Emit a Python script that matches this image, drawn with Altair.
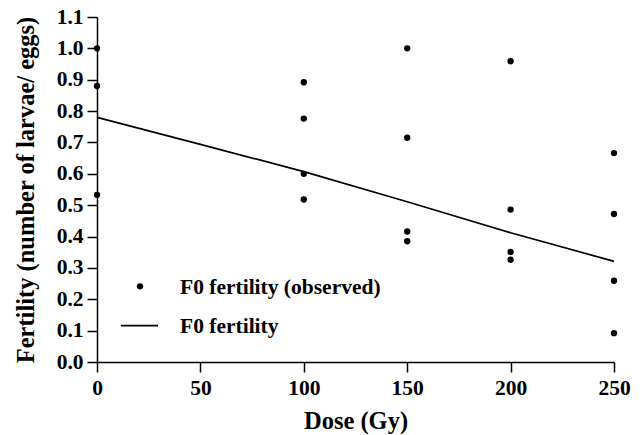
import altair as alt
import pandas as pd

# Observed data
dose_obs = [0, 0, 0, 100, 100, 100, 100, 150, 150, 150, 150, 200, 200, 200, 200, 250, 250, 250, 250]
fert_obs = [1.0, 0.88, 0.533, 0.892, 0.776, 0.600, 0.518, 1.0, 0.715, 0.416, 0.385,
            0.959, 0.486, 0.351, 0.326, 0.666, 0.472, 0.259, 0.092]

# Fitted curve
dose_fit = [0, 50, 100, 150, 200, 250]
fert_fit = [0.780, 0.694, 0.607, 0.511, 0.412, 0.321]

legend_labels = ["F0 fertility (observed)", "F0 fertility"]

x_ticks = [0, 50, 100, 150, 200, 250]
y_ticks = [0.0, 0.1, 0.2, 0.3, 0.4, 0.5, 0.6, 0.7, 0.8, 0.9, 1.0, 1.1]

FONT = "Liberation Serif"

obs_df = pd.DataFrame({"dose": dose_obs, "fert": fert_obs})
fit_df = pd.DataFrame({"dose": dose_fit, "fert": fert_fit})

xscale = alt.Scale(domain=[0, 250], nice=False, zero=False)
yscale = alt.Scale(domain=[0, 1.1], nice=False)

xaxis = alt.Axis(values=x_ticks, title="Dose (Gy)", grid=False, tickSize=10,
                 labelPadding=5, labelBaseline="top", titleBaseline="alphabetic",
                 titleY=66, domainColor="black", tickColor="black",
                 domainWidth=1.5, tickWidth=1.5, labelFlush=False, labelOverlap=False)
yaxis = alt.Axis(values=y_ticks, format=".1f", title="Fertility (number of larvae/ eggs)",
                 grid=False, tickSize=10, labelPadding=4, titleBaseline="alphabetic",
                 titleX=-64, domainColor="black", tickColor="black",
                 domainWidth=1.5, tickWidth=1.5, labelFlush=False, labelOverlap=False,
                 tickCount=12)

points = alt.Chart(obs_df).mark_circle(color="black", size=40, opacity=1, clip=False).encode(
    x=alt.X("dose:Q", scale=xscale, axis=xaxis),
    y=alt.Y("fert:Q", scale=yscale, axis=yaxis),
)

line = alt.Chart(fit_df).mark_line(color="black", strokeWidth=1.7).encode(
    x=alt.X("dose:Q", scale=xscale),
    y=alt.Y("fert:Q", scale=yscale),
)

leg_point = alt.Chart(pd.DataFrame({"k": [0]})).mark_circle(color="black", size=40, opacity=1).encode(
    x=alt.value(43), y=alt.value(269.3)
)
leg_rule = alt.Chart(pd.DataFrame({"k": [0]})).mark_rule(color="black", strokeWidth=1.7).encode(
    x=alt.value(24), x2=alt.value(61), y=alt.value(308.7)
)
leg_text1 = alt.Chart(pd.DataFrame({"t": [legend_labels[0]]})).mark_text(
    font=FONT, fontWeight="bold", fontSize=21.5, align="left", baseline="alphabetic", color="black"
).encode(x=alt.value(83), y=alt.value(277.3), text="t:N")
leg_text2 = alt.Chart(pd.DataFrame({"t": [legend_labels[1]]})).mark_text(
    font=FONT, fontWeight="bold", fontSize=21.5, align="left", baseline="alphabetic", color="black"
).encode(x=alt.value(83), y=alt.value(315.7), text="t:N")

chart = alt.layer(line, points, leg_point, leg_rule, leg_text1, leg_text2).properties(
    width=517, height=345,
    autosize=alt.AutoSizeParams(type="none"),
    padding={"left": 97, "top": 17, "right": 30, "bottom": 73},
    background="white",
).configure_view(stroke=None).configure_axis(
    labelFont=FONT, labelFontWeight="bold", labelFontSize=21.5, labelColor="black",
    titleFont=FONT, titleFontWeight="bold", titleFontSize=24.5, titleColor="black",
)

chart.save("out.html", embed_options={"renderer": "svg", "actions": False})
